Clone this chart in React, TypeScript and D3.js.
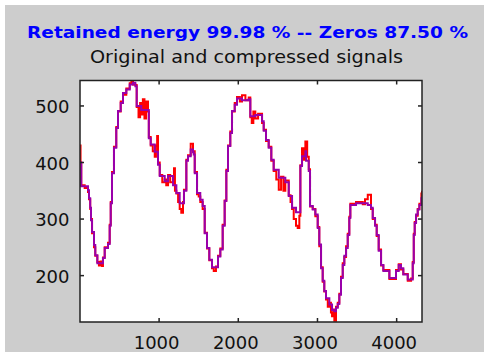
import React from "react";
import * as d3 from "d3";

const titleText = "Retained energy 99.98 % -- Zeros 87.50 %";
const subtitleText = "Original and compressed signals";
const xTicks = [1000, 2000, 3000, 4000];
const yTicks = [200, 300, 400, 500];
const xDomain = [1, 4320];
const yDomain = [118, 545];

// compressed signal (purple), [sample index, value]
const compressed: [number, number][] = [
  [1, 400], [17, 358], [60, 358], [102, 351], [115, 337], [130, 320], [140, 298], [153, 277],
  [178, 254], [194, 236], [220, 222], [270, 222], [291, 231], [313, 249], [355, 256], [376, 288],
  [389, 328], [405, 381], [430, 426], [459, 461], [481, 491], [515, 505], [544, 523], [586, 529],
  [629, 538], [670, 541], [700, 535], [717, 500], [775, 493], [860, 493], [870, 443], [894, 432],
  [945, 419], [986, 396], [1008, 376], [1071, 367], [1113, 376], [1176, 360], [1218, 346], [1260, 328],
  [1302, 328], [1314, 350], [1344, 403], [1365, 411], [1399, 423], [1428, 418], [1437, 414], [1450, 381],
  [1479, 346], [1520, 334], [1550, 323], [1576, 275], [1605, 249], [1634, 228], [1668, 215], [1718, 215],
  [1744, 234], [1773, 246], [1803, 288], [1828, 332], [1849, 385], [1870, 429], [1899, 452], [1921, 491],
  [1955, 502], [1984, 513], [2047, 510], [2132, 512], [2152, 482], [2215, 484], [2300, 473], [2321, 456],
  [2350, 440], [2384, 426], [2417, 405], [2447, 387], [2511, 373], [2594, 365], [2637, 341], [2679, 320],
  [2729, 312], [2771, 312], [2784, 394], [2805, 411], [2847, 420], [2856, 403], [2890, 385], [2906, 323],
  [2940, 317], [2973, 308], [3003, 284], [3023, 255], [3045, 213], [3066, 191], [3086, 173], [3108, 160],
  [3150, 149], [3184, 139], [3213, 137], [3234, 143], [3256, 150], [3276, 166], [3297, 196], [3319, 219],
  [3339, 235], [3361, 249], [3382, 272], [3402, 302], [3415, 325], [3487, 328], [3572, 328], [3635, 325],
  [3676, 320], [3698, 302], [3727, 288], [3748, 272], [3773, 244], [3803, 219], [3832, 208], [3908, 196],
  [3992, 208], [4026, 219], [4055, 213], [4084, 202], [4140, 193], [4182, 193], [4203, 222], [4216, 272],
  [4228, 293], [4245, 308], [4266, 317], [4287, 325], [4312, 337], [4320, 340],
];

// original signal (red), [sample index, value]
const original: [number, number][] = [
  [1, 430], [8, 400], [17, 360], [60, 355], [102, 348], [115, 335], [130, 318], [140, 300], [153, 275],
  [178, 250], [194, 235], [220, 224], [240, 218], [260, 225], [280, 217], [291, 232], [313, 250], [355, 258],
  [376, 290], [389, 330], [405, 383], [430, 428], [459, 463], [481, 490], [515, 508], [544, 520], [586, 531],
  [629, 540], [650, 545], [670, 538], [700, 537], [717, 498], [740, 480], [760, 505], [775, 485], [795, 512],
  [815, 478], [835, 508], [860, 490], [870, 445], [894, 430], [920, 420], [945, 410], [960, 430], [975, 447],
  [986, 400], [1008, 378], [1040, 365], [1071, 370], [1090, 360], [1113, 378], [1140, 365], [1176, 372],
  [1188, 390], [1200, 350], [1218, 345], [1240, 330], [1260, 318], [1280, 311], [1302, 330], [1314, 352],
  [1344, 405], [1365, 413], [1399, 433], [1428, 420], [1450, 383], [1479, 344], [1500, 340], [1520, 330],
  [1550, 318], [1576, 276], [1605, 248], [1634, 227], [1668, 213], [1690, 208], [1718, 216], [1744, 235],
  [1773, 248], [1803, 290], [1828, 333], [1849, 387], [1870, 430], [1899, 455], [1921, 490], [1955, 505],
  [1984, 516], [2020, 508], [2047, 519], [2090, 510], [2132, 515], [2152, 480], [2170, 470], [2190, 490],
  [2215, 478], [2250, 486], [2300, 470], [2321, 458], [2350, 438], [2384, 428], [2417, 403], [2447, 385],
  [2480, 370], [2511, 352], [2540, 375], [2570, 350], [2594, 368], [2637, 342], [2660, 330], [2679, 318],
  [2700, 300], [2729, 288], [2750, 284], [2771, 306], [2784, 395], [2805, 425], [2830, 405], [2847, 437],
  [2870, 410], [2890, 388], [2906, 322], [2940, 318], [2973, 305], [3003, 286], [3023, 252], [3045, 215],
  [3066, 189], [3086, 172], [3108, 158], [3130, 145], [3150, 152], [3170, 135], [3184, 128], [3200, 140],
  [3213, 120], [3234, 145], [3256, 152], [3276, 168], [3297, 198], [3319, 222], [3339, 233], [3361, 252],
  [3382, 274], [3402, 304], [3415, 327], [3487, 330], [3572, 326], [3600, 335], [3635, 343], [3676, 318],
  [3698, 300], [3727, 290], [3748, 270], [3773, 246], [3803, 218], [3832, 210], [3908, 194], [3992, 210],
  [4026, 220], [4055, 211], [4084, 203], [4140, 191], [4182, 195], [4203, 224], [4216, 274], [4228, 295],
  [4245, 306], [4266, 318], [4287, 327], [4312, 345], [4320, 350],
];

const W = 484;
const H = 352;
const L = 80, R = 422, T = 80.5, B = 322;

export default function App() {
  const x = d3.scaleLinear().domain(xDomain).range([L, R]);
  const y = d3.scaleLinear().domain(yDomain).range([B, T]);
  const line = d3
    .line<[number, number]>()
    .x((d) => x(d[0]))
    .y((d) => y(d[1]))
    .curve(d3.curveStepAfter);
  const font = "'DejaVu Sans', Verdana, sans-serif";
  const tickLen = 4;
  return (
    <svg
      width={W}
      height={H}
      style={{ position: "absolute", left: 0, top: 0 }}
      viewBox={`0 0 ${W} ${H}`}
    >
      <rect x={0} y={0} width={W} height={H} fill="#ffffff" />
      <rect x={5} y={5} width={W - 5} height={H - 5} fill="#cdcdcd" />
      <defs>
        <clipPath id="plotclip">
          <rect x={L} y={T} width={R - L} height={B - T} />
        </clipPath>
      </defs>
      <rect x={L} y={T} width={R - L} height={B - T} fill="#ffffff" />
      <g clipPath="url(#plotclip)">
        <path d={line(original) || ""} fill="none" stroke="#ff0000" strokeWidth={2} />
        <path d={line(compressed) || ""} fill="none" stroke="#9900aa" strokeWidth={2} />
      </g>
      <rect x={L} y={T} width={R - L} height={B - T} fill="none" stroke="#222" strokeWidth={1.5} />
      {xTicks.map((t) => (
        <g key={"x" + t}>
          <line x1={x(t)} x2={x(t)} y1={B} y2={B - tickLen} stroke="#222" strokeWidth={1.5} />
          <line x1={x(t)} x2={x(t)} y1={T} y2={T + tickLen} stroke="#222" strokeWidth={1.5} />
          <text
            x={x(t) - 2.5}
            y={349}
            textAnchor="middle"
            fontFamily={font}
            fontSize={18}
            fill="#111"
          >
            {t}
          </text>
        </g>
      ))}
      {yTicks.map((t) => (
        <g key={"y" + t}>
          <line x1={L} x2={L + tickLen} y1={y(t)} y2={y(t)} stroke="#222" strokeWidth={1.5} />
          <line x1={R} x2={R - tickLen} y1={y(t)} y2={y(t)} stroke="#222" strokeWidth={1.5} />
          <text
            x={69.5}
            y={y(t) + 7}
            textAnchor="end"
            fontFamily={font}
            fontSize={18}
            fill="#111"
          >
            {t}
          </text>
        </g>
      ))}
      <text
        x={247.5}
        y={38}
        textAnchor="middle"
        fontFamily={font}
        fontWeight="bold"
        fontSize={16}
        fill="#0000ff"
        textLength={441}
        lengthAdjust="spacingAndGlyphs"
      >
        {titleText}
      </text>
      <text
        x={246.5}
        y={63}
        textAnchor="middle"
        fontFamily={font}
        fontSize={17}
        fill="#111"
        textLength={313}
        lengthAdjust="spacingAndGlyphs"
      >
        {subtitleText}
      </text>
    </svg>
  );
}
